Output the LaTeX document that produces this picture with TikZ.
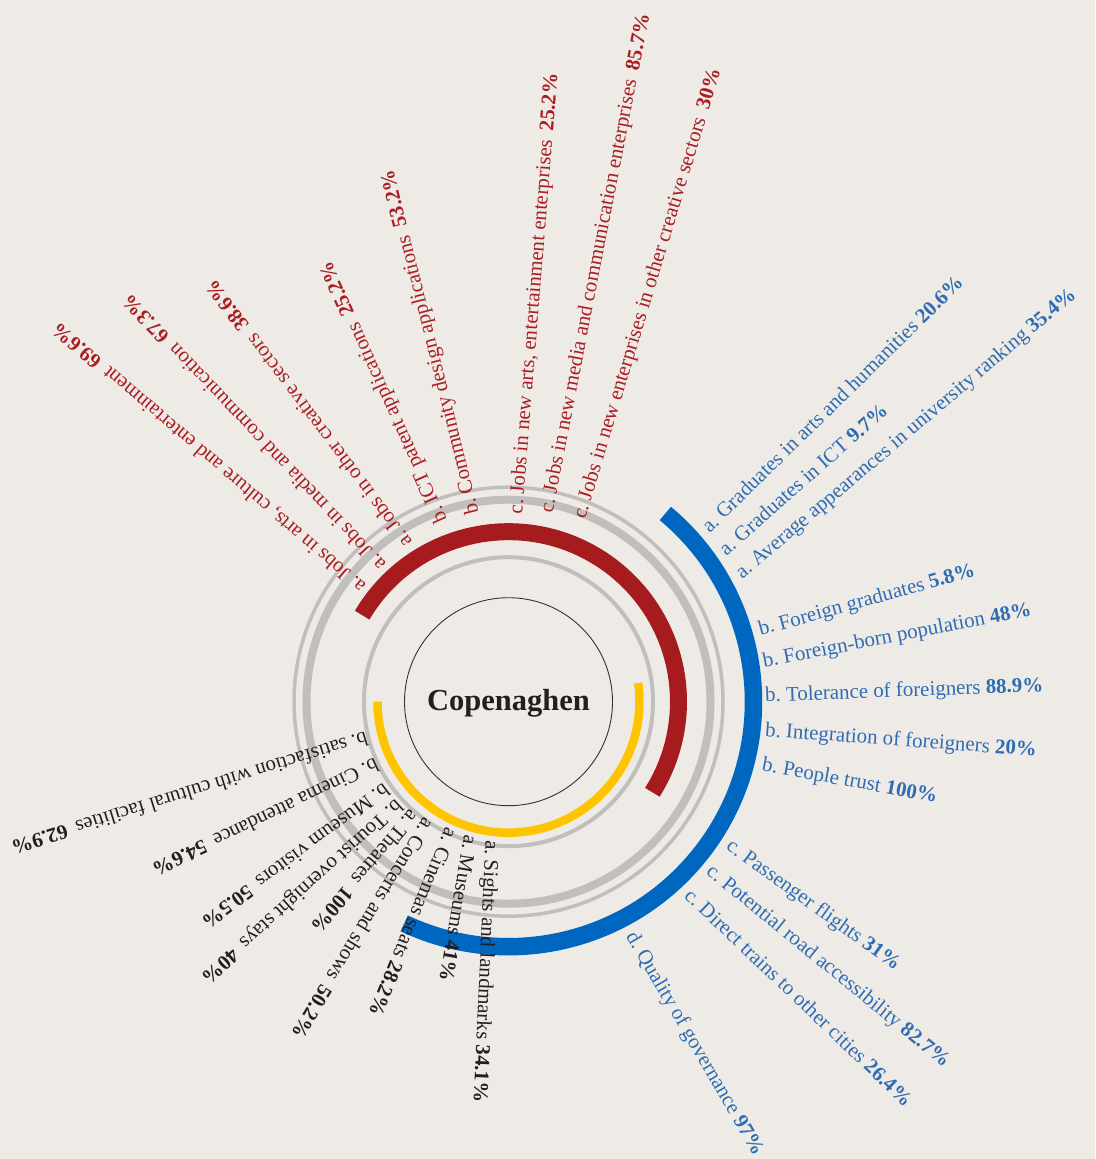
\documentclass[tikz,border=0pt]{standalone}
\usepackage{fontspec}
\setmainfont{Liberation Serif}
\usetikzlibrary{calc}

\definecolor{paper}{RGB}{238,235,230}
\definecolor{ringgray}{RGB}{192,191,189}
\definecolor{arcred}{RGB}{166,27,30}
\definecolor{arcblue}{RGB}{0,103,192}
\definecolor{arcyellow}{RGB}{255,196,0}
\definecolor{txtred}{RGB}{170,30,35}
\definecolor{txtblue}{RGB}{47,108,180}
\definecolor{txtblack}{RGB}{35,31,32}

\frenchspacing
\newcommand\labfont{\fontsize{20.9}{24}\selectfont}
\newcommand\gap{\hspace{0.45em}}
% label placed at the centre of its first glyph, running at the given angle
\newcommand\radlabel[6]{%
  \node[#5, rotate=#4] (#1) at ($(#2,-#3)+({#4+180}:5)+({#4-90}:4.6)$) {#6};}

\tikzset{
  lab/.style={inner sep=0pt, anchor=base west, font=\labfont},
  redlab/.style={lab, text=txtred},
  bluelab/.style={lab, text=txtblue},
  blacklab/.style={lab, text=txtblack},
  ring/.style={draw=ringgray},
  band/.style={line width=#1},
}

\begin{document}
\begin{tikzpicture}[x=1pt, y=1pt]
  \fill[paper] (0,0) rectangle (1095,-1159);
  \useasboundingbox (0,0) rectangle (1095,-1159);
  \coordinate (C) at (508.5,-701.7);

  % grey guide rings
  \draw[ring, line width=4] (C) circle[radius=144.5];
  \draw[ring, line width=8] (C) circle[radius=202];
  \draw[ring, line width=3.5] (C) circle[radius=214.5];

  % inner circle
  \draw[line width=0.9, draw=black!80] (C) circle[radius=104];

  % value bands
  \draw[arcyellow, band=8.5] ($(C)+(180:131)$) arc[start angle=180, end angle=368.2, radius=131];
  \draw[arcred, band=17] ($(C)+(149.4:170)$) arc[start angle=149.4, end angle=-32.2, radius=170];
  \draw[arcblue, band=17.5] ($(C)+(50.2:245)$) arc[start angle=50.2, end angle=-115.2, radius=245];

  \node[font=\fontsize{30.5}{36}\selectfont\bfseries, text=txtblack, inner sep=0pt, anchor=base] (city) at (508.5,-710.5) {Copenaghen};

  % red labels
  \radlabel{r1}{360}{585}{139.5}{redlab}{a. Jobs in arts, culture and entertainment\gap\textbf{69.6\%}}
  \radlabel{r2}{380}{563}{133.5}{redlab}{a. Jobs in media and communication\gap\textbf{67.3\%}}
  \radlabel{r3}{406}{540}{127}{redlab}{a. Jobs in other creative sectors\gap\textbf{38.6\%}}
  \radlabel{r4}{441}{517}{114.2}{redlab}{b. ICT patent applications\gap\textbf{25.2\%}}
  \radlabel{r5}{473}{509}{104}{redlab}{b. Community design applications\gap\textbf{53.2\%}}
  \radlabel{r6}{518}{509}{85.4}{redlab}{c. Jobs in new arts, entertainment enterprises\gap\textbf{25.2\%}}
  \radlabel{r7}{549}{508}{79}{redlab}{c. Jobs in new media and communication enterprises\gap\textbf{85.7\%}}
  \radlabel{r8}{582}{514}{73.2}{redlab}{c. Jobs in new enterprises in other creative sectors\gap\textbf{30\%}}

  % blue labels
  \radlabel{b1}{710}{527}{44.4}{bluelab}{a. Graduates in arts and humanities \textbf{20.6\%}}
  \radlabel{b2}{727}{550}{41.5}{bluelab}{a. Graduates in ICT \textbf{9.7\%}}
  \radlabel{b3}{743}{573}{40.2}{bluelab}{a. Average appearances in university ranking \textbf{35.4\%}}
  \radlabel{b4}{764}{630}{15.5}{bluelab}{b. Foreign graduates \textbf{5.8\%}}
  \radlabel{b5}{768}{662}{10.9}{bluelab}{b. Foreign-born population \textbf{48\%}}
  \radlabel{b6}{770}{697}{2.1}{bluelab}{b. Tolerance of foreigners \textbf{88.9\%}}
  \radlabel{b7}{770}{732}{-4.2}{bluelab}{b. Integration of foreigners \textbf{20\%}}
  \radlabel{b8}{767}{767}{-10.4}{bluelab}{b. People trust \textbf{100\%}}
  \radlabel{b9}{732}{848}{-35.7}{bluelab}{c. Passenger flights \textbf{31\%}}
  \radlabel{b10}{712}{873}{-39.2}{bluelab}{c. Potential road accessibility \textbf{82.7\%}}
  \radlabel{b11}{690}{897}{-43.6}{bluelab}{c. Direct trains to other cities \textbf{26.4\%}}
  \radlabel{b12}{632}{938}{-59.8}{bluelab}{d. Quality of governance \textbf{97\%}}

  % black labels
  \radlabel{k1}{362}{737}{197.3}{blacklab}{b. satisfaction with cultural facilities\gap\textbf{62.9\%}}
  \radlabel{k2}{372}{764}{205.5}{blacklab}{b. Cinema attendance\gap\textbf{54.6\%}}
  \radlabel{k3}{382}{789}{216.7}{blacklab}{b. Museum visitors\gap\textbf{50.5\%}}
  \radlabel{k4}{395}{805}{222.2}{blacklab}{b. Tourist overnight stays\gap\textbf{40\%}}
  \radlabel{k5}{410}{815}{229.5}{blacklab}{a. Theatres\gap\textbf{100\%}}
  \radlabel{k6}{425}{823}{238.5}{blacklab}{a. Concerts and shows\gap\textbf{50.2\%}}
  \radlabel{k7}{448}{833}{247.5}{blacklab}{a. Cinemas seats \textbf{28.2\%}}
  \radlabel{k8}{468}{840}{260.3}{blacklab}{a. Museums \textbf{41\%}}
  \radlabel{k9}{490}{845}{267.4}{blacklab}{a. Sights and landmarks \textbf{34.1\%}}
\end{tikzpicture}
\end{document}
